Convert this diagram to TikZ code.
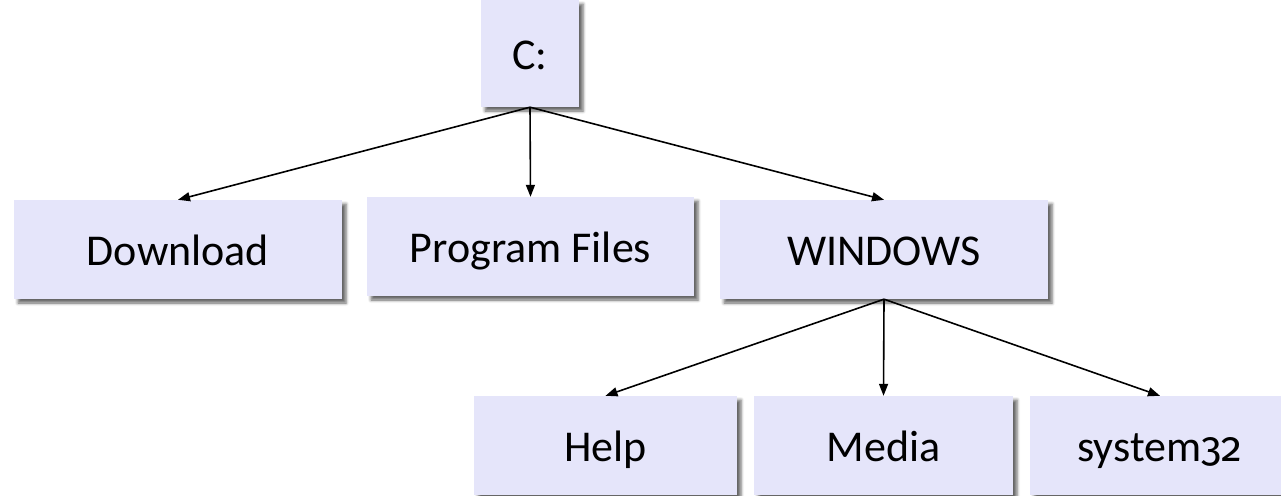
\documentclass[tikz,border=0pt]{standalone}
\usepackage{fontspec}
\setmainfont{Carlito}
\newfontfamily\oldfigs{Fira Sans}[Numbers=OldStyle,Scale=0.95]
\usetikzlibrary{arrows.meta,shadows.blur}
\definecolor{boxfill}{HTML}{E5E5FA}
\begin{document}
\begin{tikzpicture}[x=1pt,y=-1pt,
  folder/.style={fill=boxfill, inner sep=0pt, text=black,
    font=\fontsize{44}{52}\selectfont,
    text height=35pt, text depth=4pt,
    blur shadow={shadow xshift=4pt, shadow yshift=-4pt,
      shadow blur radius=3pt, shadow opacity=60}},
  link/.style={line width=1.6pt, -{Triangle[length=12pt,width=9pt]}}]
\useasboundingbox (0,0) rectangle (1281,495);
\clip (0,0) rectangle (1281,495);

% drive root
\node[folder, minimum width=98pt, minimum height=107pt] (root) at (530,53.5) {C:};

% first level folders
\node[folder, minimum width=328pt, minimum height=99pt] (download) at (178,249.5) {Download};
\node[folder, minimum width=327pt, minimum height=99pt] (progfiles) at (530.5,246.5) {Program Files};
\node[folder, minimum width=328pt, minimum height=99pt] (windows) at (884,249.5) {WINDOWS};

% subfolders of WINDOWS
\node[folder, minimum width=263pt, minimum height=99pt] (help) at (605.5,445.5) {Help};
\node[folder, minimum width=259pt, minimum height=99pt] (media) at (883.5,445.5) {Media};
\node[folder, minimum width=260pt, minimum height=99pt] (sys) at (1160,445.5) {system{\oldfigs 32}};

% connectors
\draw[link] (root.south) -- (download.north);
\draw[link] (root.south) -- (progfiles.north);
\draw[link] (root.south) -- (windows.north);
\draw[link] (windows.south) -- (help.north);
\draw[link] (windows.south) -- (media.north);
\draw[link] (windows.south) -- (sys.north);
\end{tikzpicture}
\end{document}
